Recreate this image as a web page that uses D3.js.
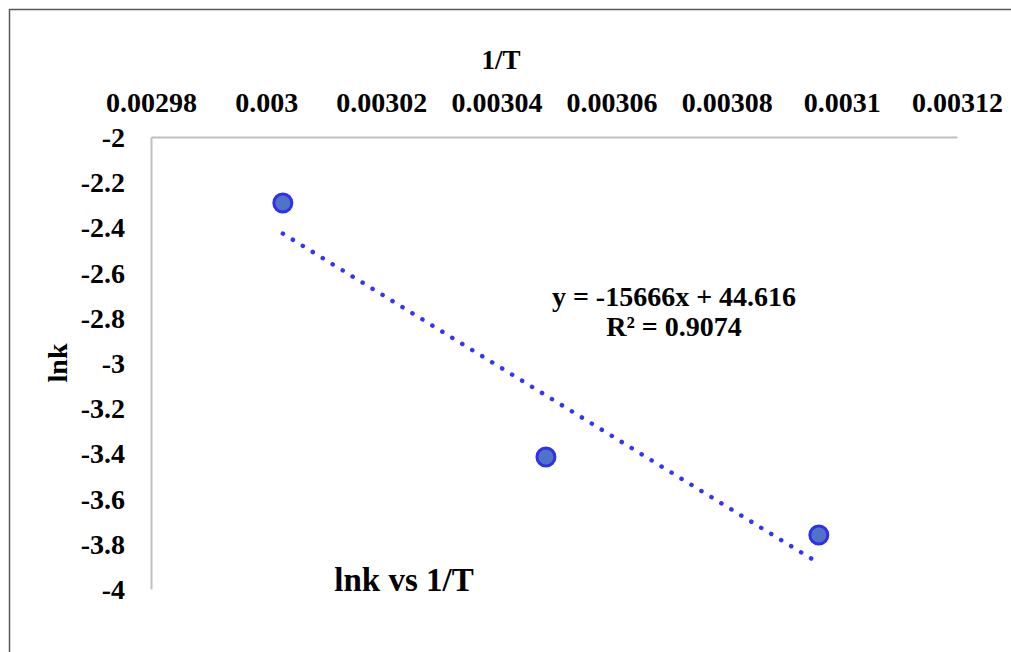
<!DOCTYPE html>
<html>
<head>
<meta charset="utf-8">
<script src="https://cdn.jsdelivr.net/npm/d3@7"></script>
<style>
	body { margin: 0; background: #fff; }
	svg { display: block; font-family: 'Liberation Serif', 'Times New Roman', serif; font-weight: bold; }
</style>
</head>
<body>
<svg id="chart" width="1011" height="652"></svg>
<script>
// data
var invT = [0.0030029, 0.0030486, 0.003096];
var lnk = [-2.292, -3.416, -3.761];

var xTicks = [0.00298, 0.003, 0.00302, 0.00304, 0.00306, 0.00308, 0.0031, 0.00312];
var xTickLabels = ['0.00298', '0.003', '0.00302', '0.00304', '0.00306', '0.00308', '0.0031', '0.00312'];
var yTicks = [-2, -2.2, -2.4, -2.6, -2.8, -3, -3.2, -3.4, -3.6, -3.8, -4];
var yTickLabels = ['-2', '-2.2', '-2.4', '-2.6', '-2.8', '-3', '-3.2', '-3.4', '-3.6', '-3.8', '-4'];

// trendline shown on the chart
var trendSlope = -15666;
var trendIntercept = 44.616;
var trendText = ['y = -15666x + 44.616', 'R² = 0.9074'];

var margin = { top: 137, right: 54, bottom: 63, left: 151 };
var W = 1011, H = 652;
var width = W - margin.left - margin.right;
var height = H - margin.top - margin.bottom;

var svg = d3.select('#chart');

// outer frame (runs off the right and bottom of the picture)
svg.append('rect')
	.attr('x', 9.5).attr('y', 9.5)
	.attr('width', 1020).attr('height', 660)
	.attr('fill', 'none')
	.attr('stroke', '#595959')
	.attr('stroke-width', 1.5);

var x = d3.scaleLinear().domain([0.00298, 0.00312]).range([0, width]);
var y = d3.scaleLinear().domain([-2, -4]).range([0, height]);

var g = svg.append('g').attr('transform', 'translate(' + margin.left + ',' + margin.top + ')');

var xAxis = g.append('g')
	.call(d3.axisTop(x)
		.tickValues(xTicks)
		.tickFormat((d, i) => xTickLabels[i])
		.tickSize(0)
		.tickPadding(25));

var yAxis = g.append('g')
	.call(d3.axisLeft(y)
		.tickValues(yTicks)
		.tickFormat((d, i) => yTickLabels[i])
		.tickSize(0)
		.tickPadding(26));

[xAxis, yAxis].forEach(a => {
	a.select('.domain').attr('stroke', '#bfbfbf').attr('stroke-width', 2);
	a.selectAll('text')
		.attr('fill', '#000')
		.style('font-family', "'Liberation Serif', 'Times New Roman', serif")
		.style('font-weight', 'bold')
		.style('font-size', '28px');
});
yAxis.selectAll('text').attr('dy', '0.34em');

// axis titles
svg.append('text')
	.attr('x', 501).attr('y', 69)
	.attr('text-anchor', 'middle')
	.style('font-size', '27px')
	.text('1/T');

svg.append('text')
	.attr('transform', 'translate(67,363) rotate(-90)')
	.attr('text-anchor', 'middle')
	.style('font-size', '28px')
	.text('lnk');

// chart title
svg.append('text')
	.attr('x', 404).attr('y', 591)
	.attr('text-anchor', 'middle')
	.style('font-size', '33px')
	.text('lnk vs 1/T');

// trendline
var xMin = d3.min(invT), xMax = d3.max(invT);
var trend = [xMin, xMax].map(v => [v, trendSlope * v + trendIntercept]);
g.append('path')
	.datum(trend)
	.attr('d', d3.line().x(d => x(d[0])).y(d => y(d[1])))
	.attr('fill', 'none')
	.attr('stroke', '#3333ff')
	.attr('stroke-width', 4.5)
	.attr('stroke-linecap', 'round')
	.attr('stroke-dasharray', '0.1 11.6');

// points
g.selectAll('circle')
	.data(invT)
	.enter()
	.append('circle')
	.attr('cx', d => x(d))
	.attr('cy', (d, i) => y(lnk[i]))
	.attr('r', 9)
	.attr('fill', '#4f74c6')
	.attr('stroke', '#2f2ff2')
	.attr('stroke-width', 3);

// equation label
var eq = svg.append('text')
	.attr('text-anchor', 'middle')
	.style('font-size', '28px');
eq.selectAll('tspan')
	.data(trendText)
	.enter()
	.append('tspan')
	.attr('x', 674)
	.attr('y', (d, i) => 306 + i * 30)
	.text(d => d);
</script>
</body>
</html>
